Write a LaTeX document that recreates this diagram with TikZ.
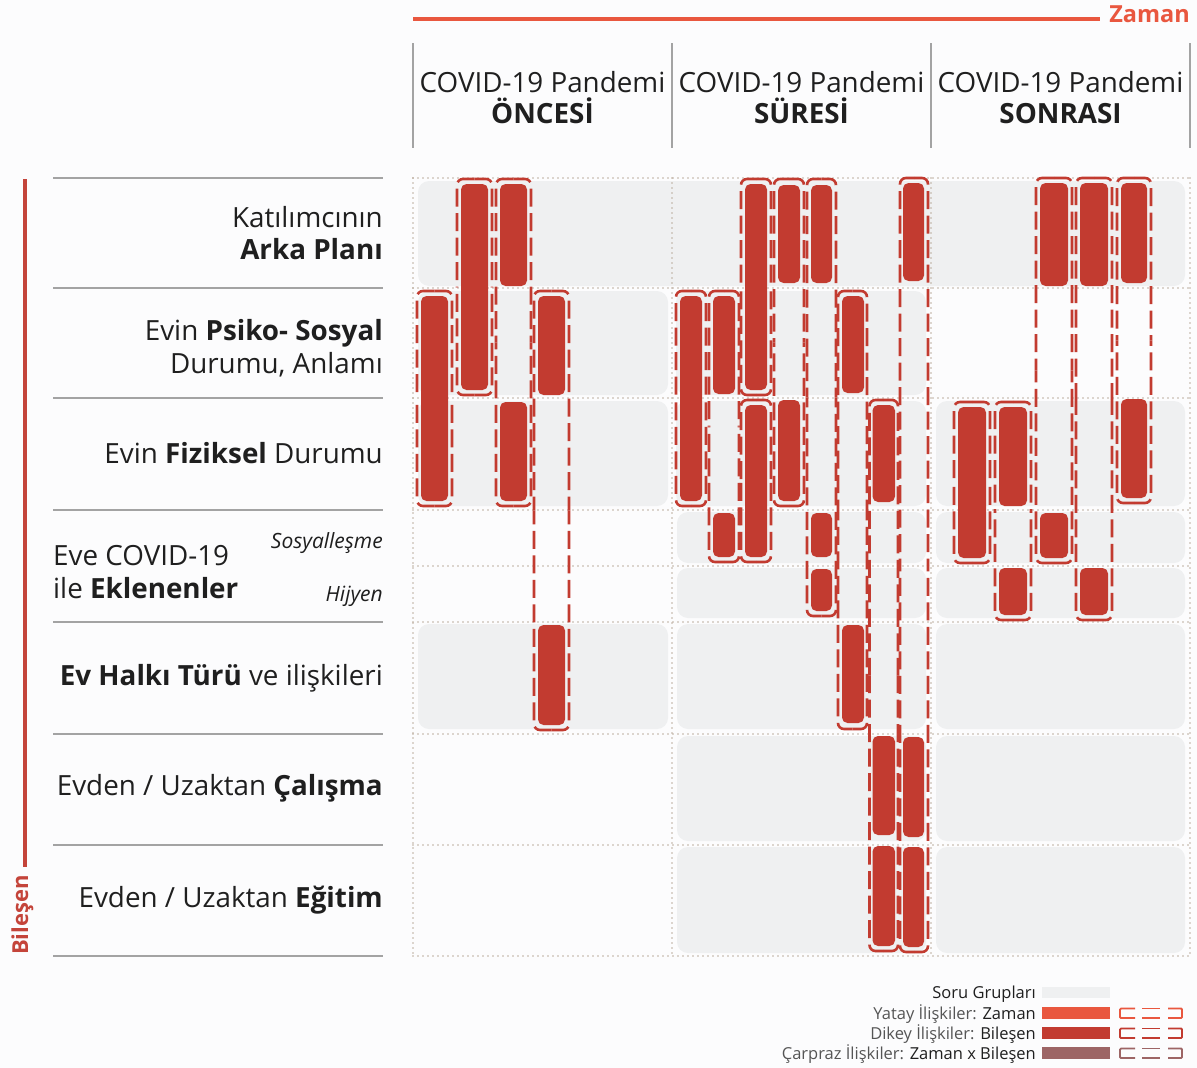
\documentclass[tikz,border=0pt]{standalone}
\usepackage{fontspec}
\setmainfont{Open Sans}
\definecolor{barred}{HTML}{C23B30}
\definecolor{yatay}{HTML}{E9573F}
\definecolor{carp}{HTML}{9D6565}
\definecolor{qgrey}{HTML}{EFF0F1}
\definecolor{dotc}{HTML}{BCAE9F}
\definecolor{txt}{HTML}{1F1F1F}
\definecolor{ltxt}{HTML}{555555}
\definecolor{lgrey}{HTML}{A3A3A3}
\definecolor{bgc}{HTML}{FCFCFD}
\definecolor{leftred}{HTML}{C4443A}
\tikzset{
  qbox/.style={fill=qgrey, rounded corners=11pt},
  barfill/.style={fill=barred, rounded corners=5.5pt},
  dgline/.style={draw=barred, line width=2.6pt, rounded corners=6pt, dash pattern=on 18pt off 6.5pt},
  dotgrid/.style={draw=dotc, line width=1.6pt, line cap=round, dash pattern=on 0pt off 5pt},
  lab/.style={inner sep=0pt, text=txt, font=\fontsize{27.8}{32}\selectfont},
  sublab/.style={inner sep=0pt, text=txt, font=\fontsize{21}{25}\selectfont\itshape},
  leg/.style={inner sep=0pt, text=ltxt, font=\fontsize{16.5}{20}\selectfont, anchor=base east},
  hdrline/.style={draw=lgrey, line width=1.2pt},
  rowline/.style={draw=lgrey, line width=1.4pt},
  brk/.style={line width=1.8pt}
}
\newcommand\dgrp[4]{%
  \pgfmathsetmacro\dgxm{(#1+#2)/2}%
  \pgfmathsetmacro\dgym{(#3+#4)/2}%
  \draw[dgline] (\dgxm,#3) -| (#1,\dgym);
  \draw[dgline] (\dgxm,#3) -| (#2,\dgym);
  \draw[dgline] (\dgxm,#4) -| (#1,\dgym);
  \draw[dgline] (\dgxm,#4) -| (#2,\dgym);}
\newcommand\rbar[4]{\fill[barfill] (#1,#3) rectangle (#2,#4);}
\newcommand\lbrk[3]{%
  \draw[brk,#1,rounded corners=1pt] (1135,#2) -- (1120,#2) -- (1120,#3) -- (1135,#3);
  \draw[brk,#1] (1142,#2) -- (1160,#2) (1142,#3) -- (1160,#3);
  \draw[brk,#1,rounded corners=1pt] (1168,#2) -- (1182,#2) -- (1182,#3) -- (1168,#3);}
\begin{document}
\begin{tikzpicture}[x=1pt,y=-1pt]
\useasboundingbox (0,0) rectangle (1197,1068);
\fill[bgc] (0,0) rectangle (1197,1068);

% top axis
\draw[yatay, line width=4.5pt] (413,19) -- (1100,19);
\node[inner sep=0pt, anchor=base east, text=yatay, font=\fontsize{23.5}{27}\selectfont\bfseries] (zaman) at (1190,23) {Zaman};

% left axis
\draw[leftred, line width=4.5pt] (25,179) -- (25,867);
\node[inner sep=0pt, anchor=base west, rotate=90, text=leftred, font=\fontsize{22}{26}\selectfont\bfseries] (bilesen) at (28,955) {Bileşen};

% header lines and texts
\foreach \x in {413,672,931,1190} \draw[hdrline] (\x,43) -- (\x,148);
\node[lab, anchor=base] (h1a) at (542.5,92) {COVID-19 Pandemi};
\node[lab, anchor=base] (h1b) at (542.5,123) {\textbf{ÖNCESİ}};
\node[lab, anchor=base] (h2a) at (801.5,92) {COVID-19 Pandemi};
\node[lab, anchor=base] (h2b) at (801.5,123) {\textbf{SÜRESİ}};
\node[lab, anchor=base] (h3a) at (1060.5,92) {COVID-19 Pandemi};
\node[lab, anchor=base] (h3b) at (1060.5,123) {\textbf{SONRASI}};

% row lines (left)
\foreach \y in {178,288,398,510,622,734,845,956} \draw[rowline] (53,\y) -- (383,\y);

% row labels
\node[lab, anchor=base east] (l1a) at (383,227) {Katılımcının};
\node[lab, anchor=base east] (l1b) at (383,259) {\textbf{Arka Planı}};
\node[lab, anchor=base east] (l2a) at (383,340) {Evin \textbf{Psiko- Sosyal}};
\node[lab, anchor=base east] (l2b) at (383,373) {Durumu, Anlamı};
\node[lab, anchor=base east] (l3) at (383,463) {Evin \textbf{Fiziksel} Durumu};
\node[lab, anchor=base west] (l4a) at (53,565) {Eve COVID-19};
\node[lab, anchor=base west] (l4b) at (53,598) {ile \textbf{Eklenenler}};
\node[sublab, anchor=base east] (l4s) at (383,548) {Sosyalleşme};
\node[sublab, anchor=base east] (l4h) at (383,601) {Hijyen};
\node[lab, anchor=base east] (l5) at (383,685) {\textbf{Ev Halkı Türü} ve ilişkileri};
\node[lab, anchor=base east] (l6) at (383,795) {Evden / Uzaktan \textbf{Çalışma}};
\node[lab, anchor=base east] (l7) at (383,907) {Evden / Uzaktan \textbf{Eğitim}};

% question group boxes
\fill[qbox] (418,181) rectangle (1185,286);
\fill[qbox] (418,291) rectangle (668,395);
\fill[qbox] (676,291) rectangle (926,395);
\fill[qbox] (418,401) rectangle (668,506);
\fill[qbox] (676,401) rectangle (926,506);
\fill[qbox] (936,401) rectangle (1185,506);
\fill[qbox] (677,512) rectangle (926,563);
\fill[qbox] (936,512) rectangle (1185,563);
\fill[qbox] (677,568) rectangle (926,618);
\fill[qbox] (936,568) rectangle (1185,618);
\fill[qbox] (418,624) rectangle (668,729);
\fill[qbox] (677,624) rectangle (926,729);
\fill[qbox] (936,624) rectangle (1185,729);
\fill[qbox] (677,736) rectangle (926,841);
\fill[qbox] (936,736) rectangle (1185,841);
\fill[qbox] (677,847) rectangle (926,953);
\fill[qbox] (936,847) rectangle (1185,953);

% dotted grid
\foreach \x in {413,672,931,1190} \draw[dotgrid] (\x,178) -- (\x,956);
\foreach \y in {178,288,398,510,566,622,734,845,956} \draw[dotgrid] (413,\y) -- (1190,\y);

% ONCESI
\dgrp{417}{452}{291}{506} \rbar{421}{448}{296}{501}
\dgrp{457}{492}{179}{395} \rbar{461}{488}{184}{390}
\dgrp{496}{531}{179}{506} \rbar{500}{527}{184}{286} \rbar{500}{527}{402}{501}
\dgrp{534}{569}{291}{730} \rbar{538}{565}{296}{395} \rbar{538}{565}{625}{725}

% SURESI
\dgrp{676}{706}{291}{506} \rbar{680}{702}{296}{501}
\dgrp{709}{739}{291}{562} \rbar{713}{735}{296}{394} \rbar{713}{735}{513}{557}
\dgrp{741}{771}{179}{395} \rbar{745}{767}{184}{390}
\dgrp{741}{771}{400}{562} \rbar{745}{767}{405}{557}
\dgrp{774}{804}{179}{506} \rbar{778}{800}{185}{283} \rbar{778}{800}{400}{501}
\dgrp{807}{836}{179}{616} \rbar{811}{832}{185}{283} \rbar{811}{832}{513}{557} \rbar{811}{832}{569}{611}
\dgrp{838}{867}{291}{729} \rbar{842}{864}{296}{393} \rbar{842}{864}{625}{723}
\dgrp{869.5}{898}{400}{951} \rbar{872.5}{895}{405}{502} \rbar{872.5}{895}{736}{835} \rbar{872.5}{895}{846}{946}
\dgrp{900}{928}{178}{952} \rbar{903}{924}{183}{281} \rbar{903}{924}{737}{837} \rbar{903}{924}{847}{947}

% SONRASI
\dgrp{954}{990}{402}{563} \rbar{958}{986}{407}{558}
\dgrp{995}{1031}{402}{620} \rbar{999}{1027}{407}{506} \rbar{999}{1027}{568}{615}
\dgrp{1036}{1072}{178}{563} \rbar{1040}{1068}{183}{286} \rbar{1040}{1068}{513}{558}
\dgrp{1076}{1112}{178}{620} \rbar{1080}{1108}{183}{286} \rbar{1080}{1108}{568}{615}
\dgrp{1117}{1151}{178}{503} \rbar{1121}{1147}{183}{283} \rbar{1121}{1147}{399}{498}

% legend
\fill[qgrey] (1042,987) rectangle (1110,998);
\fill[yatay] (1042,1007) rectangle (1110,1019);
\fill[barred] (1042,1027) rectangle (1110,1039);
\fill[carp] (1042,1047) rectangle (1110,1059);
\node[leg] (lg1) at (1036,998.5) {\textcolor{txt}{Soru Grupları}};
\node[leg] (lg2) at (1036,1019) {Yatay İlişkiler: \textcolor{txt}{Zaman}};
\node[leg] (lg3) at (1036,1039) {Dikey İlişkiler: \textcolor{txt}{Bileşen}};
\node[leg] (lg4) at (1036,1059) {Çarpraz İlişkiler: \textcolor{txt}{Zaman x Bileşen}};
\lbrk{yatay}{1008.5}{1018}
\lbrk{barred}{1028.5}{1038}
\lbrk{carp}{1048.5}{1058}
\end{tikzpicture}
\end{document}
